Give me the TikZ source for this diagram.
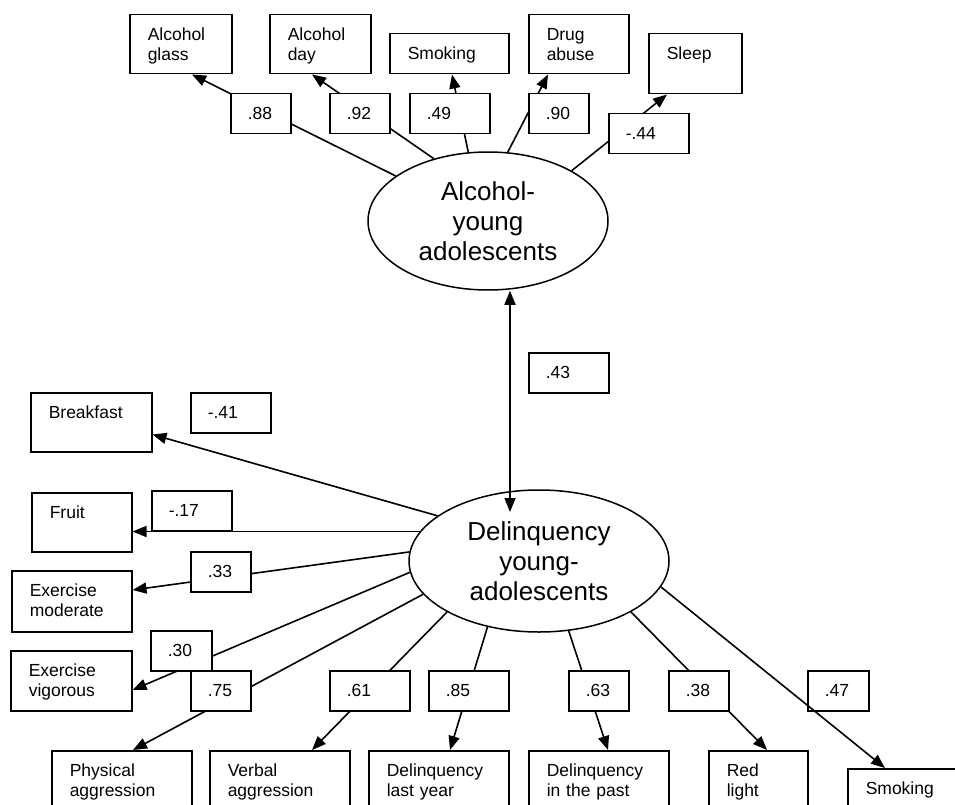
\documentclass[tikz,border=0pt]{standalone}
\usepackage{fontspec}
\setmainfont{Liberation Sans}
\usetikzlibrary{arrows.meta,calc,shapes.geometric}
\newcommand\labfont{\fontsize{17.5}{20}\selectfont}
\newcommand\ellfont{\fontsize{26}{30}\selectfont}
\begin{document}
\begin{tikzpicture}[x=1pt,y=-1pt,
  box/.style={draw, line width=1.5pt, anchor=north west, inner xsep=18pt,
    inner ysep=0pt, align=left, font=\labfont, text height=26pt},
  val/.style={draw, fill=white, line width=1.5pt, anchor=north west,
    inner xsep=17pt, inner ysep=0pt, align=left, font=\labfont,
    text height=26pt, text depth=14pt},
  latent/.style={draw, ellipse, line width=1.5pt, inner sep=0pt,
    align=center, font=\ellfont},
  conn/.style={line width=1.6pt, -{Triangle[length=14pt,width=11pt]}},
]
\path[use as bounding box] (0,0) rectangle (955,805);
\clip (0,0) rectangle (955,805);
\fill[white] (0,0) rectangle (955,805);

% latent variables
\node[latent, minimum width=240pt, minimum height=138pt] (alc) at (488,221)
  {Alcohol-\\young\\adolescents};
\node[latent, minimum width=260pt, minimum height=142pt] (del) at (539,561)
  {Delinquency\\young-\\adolescents};

% indicators of the alcohol factor
\node[box, text width=66pt, text depth=33pt] (glass)  at (129,14) {Alcohol\\glass};
\node[box, text width=65pt, text depth=33pt] (day)    at (269,14) {Alcohol\\day};
\node[box, text width=83pt, text depth=14pt] (smokeA) at (389,33) {Smoking};
\node[box, text width=64pt, text depth=33pt] (drug)   at (528,14) {Drug\\abuse};
\node[box, text width=57pt, text depth=34pt] (sleep)  at (648,33) {Sleep};

% indicators of the delinquency factor
\node[box, text width=85pt, text depth=33pt] (bf)     at (30,392)  {Breakfast};
\node[box, text width=64pt, text depth=33pt] (fruit)  at (31,492)  {Fruit};
\node[box, text width=84pt, text depth=35pt] (exmod)  at (11,570)  {Exercise\\moderate};
\node[box, text width=85pt, text depth=34pt] (exvig)  at (10,650)  {Exercise\\vigorous};
\node[box, text width=104pt, text depth=54pt] (phys)  at (51,750)  {Physical\\aggression};
\node[box, text width=104pt, text depth=54pt] (verbal) at (209,750) {Verbal\\aggression};
\node[box, text width=104pt, text depth=54pt] (lastyr) at (368,750) {Delinquency\\last year};
\node[box, text width=104pt, text depth=54pt] (past)  at (528,750) {Delinquency\\in the past};
\node[box, text width=63pt, text depth=54pt] (red)    at (708,750) {Red\\light};
\node[box, text width=84pt, text depth=54pt] (smokeB) at (847,768) {Smoking};

% loadings
\draw[conn] (alc.154) -- ($(glass.south west)+(63,0)$);
\draw[conn] (alc.131) -- ($(day.south west)+(43,0)$);
\draw[conn] (alc.106) -- ($(smokeA.south west)+(63,0)$);
\draw[conn] (alc.74)  -- ($(drug.south west)+(20,0)$);
\draw[conn] (alc.31)  -- ($(sleep.south west)+(19,0)$);

% correlation between the factors
\coordinate (dtip) at (510,512);
\draw[line width=1.6pt, {Triangle[length=14pt,width=11pt]}-{Triangle[length=14pt,width=11pt]}]
  (alc.south -| dtip) -- (dtip);

\coordinate (fruitlvl) at (0,531.5);
\draw[conn] (del.156) -- ($(bf.south east)+(0,-18)$);
\draw[conn] (del.166 |- fruitlvl) -- (fruit.east |- fruitlvl);
\draw[conn] (del.176) -- ($(exmod.north east)+(0,20)$);
\draw[conn] (del.185) -- ($(exvig.north east)+(0,40)$);
\draw[conn] (del.196) -- ($(phys.north west)+(82,0)$);
\draw[conn] (del.209) -- ($(verbal.north west)+(103,0)$);
\draw[conn] (del.232) -- ($(lastyr.north west)+(82,0)$);
\draw[conn] (del.293) -- ($(past.north west)+(80,0)$);
\draw[conn] (del.331) -- ($(red.north west)+(59,0)$);

% coefficient boxes
\node[val, text width=26pt] (v88) at (230,93)  {.88};
\node[val, text width=26pt] (v92) at (329,93)  {.92};
\node[val, text width=46pt] (v49) at (409,93)  {.49};
\node[val, text width=26pt] (v90) at (528,93)  {.90};
\node[val, text width=46pt] (v44) at (608,113) {-.44};
\node[val, text width=46pt] (v43) at (528,352) {.43};
\node[val, text width=46pt] (v41) at (190,392) {-.41};
\node[val, text width=46pt] (v17) at (151,490) {-.17};
\node[val, text width=26pt] (v33) at (190,551) {.33};
\node[val, text width=27pt] (v30) at (150,630) {.30};
\node[val, text width=26pt] (v75) at (190,670) {.75};
\node[val, text width=46pt] (v61) at (329,670) {.61};
\node[val, text width=46pt] (v85) at (428,670) {.85};
\node[val, text width=26pt] (v63) at (568,670) {.63};
\node[val, text width=26pt] (v38) at (668,670) {.38};
\node[val, text width=27pt] (v47) at (807,670) {.47};

\draw[conn] (del.348) -- ($(smokeB.north west)+(38,0)$);
\end{tikzpicture}
\end{document}
